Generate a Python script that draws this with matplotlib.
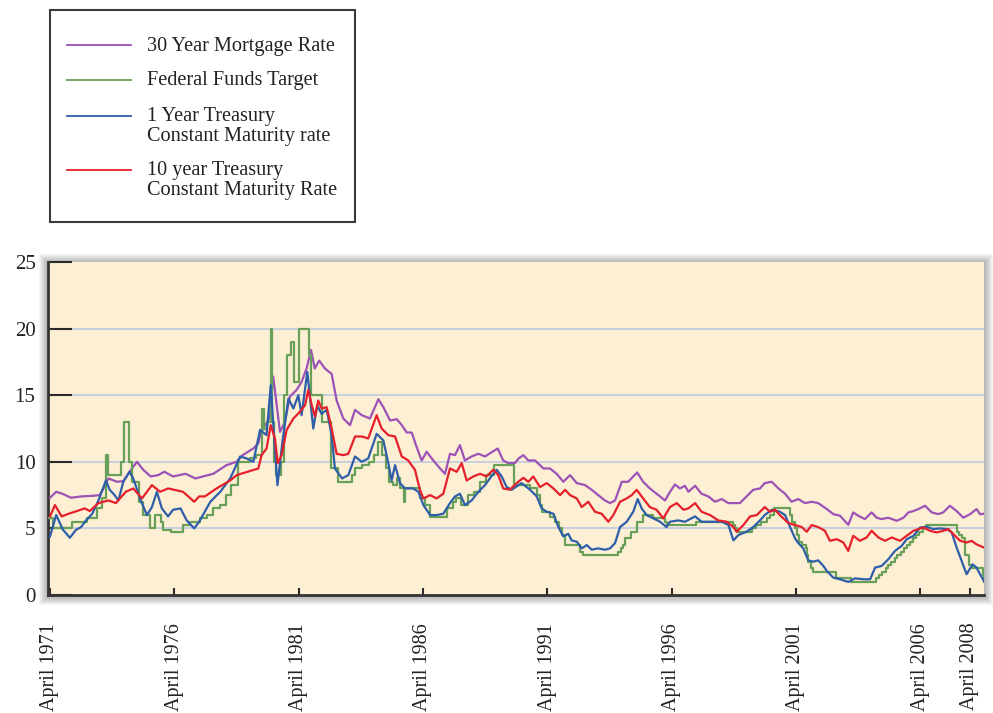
import numpy as np
import matplotlib
matplotlib.use("Agg")
import matplotlib.pyplot as plt
from matplotlib.patches import Rectangle
from matplotlib.lines import Line2D

plt.rcParams['font.family'] = ['Liberation Serif', 'DejaVu Serif']

# (decimal year, percent) pairs
mortgage_30yr = [
    (1971.25, 7.3), (1971.5, 7.75), (1971.75, 7.6), (1972.1, 7.3), (1972.5, 7.4), (1973.0, 7.45),
    (1973.25, 7.5), (1973.4, 8.0), (1973.6, 8.75), (1973.95, 8.5), (1974.2, 8.55), (1974.45, 9.25),
    (1974.75, 10.0), (1975.0, 9.4), (1975.3, 8.9), (1975.6, 9.0), (1975.85, 9.25), (1976.2, 8.9),
    (1976.7, 9.1), (1977.1, 8.75), (1977.4, 8.9), (1977.82, 9.1), (1978.35, 9.75), (1978.76, 10.0),
    (1979.0, 10.5), (1979.43, 11.0), (1979.63, 11.4), (1979.74, 12.25), (1980.07, 13.25),
    (1980.23, 16.4), (1980.5, 12.25), (1980.7, 13.0), (1980.9, 14.9), (1981.17, 15.4),
    (1981.37, 16.0), (1981.57, 17.0), (1981.75, 18.4), (1981.9, 17.0), (1982.08, 17.6),
    (1982.31, 17.0), (1982.58, 16.6), (1982.78, 14.6), (1983.05, 13.25), (1983.32, 12.75),
    (1983.52, 13.9), (1983.79, 13.5), (1984.12, 13.25), (1984.46, 14.7), (1984.66, 14.1),
    (1984.93, 13.1), (1985.2, 13.2), (1985.4, 12.75), (1985.6, 12.2), (1985.8, 12.2),
    (1986.0, 11.1), (1986.2, 10.1), (1986.4, 10.75), (1986.67, 10.1), (1986.94, 9.5),
    (1987.14, 9.1), (1987.34, 10.6), (1987.54, 10.5), (1987.74, 11.25), (1987.94, 10.1),
    (1988.21, 10.4), (1988.48, 10.6), (1988.75, 10.4), (1989.0, 10.7), (1989.26, 11.0),
    (1989.48, 10.1), (1989.69, 9.9), (1989.95, 9.9), (1990.1, 10.25), (1990.29, 10.5),
    (1990.49, 10.1), (1990.76, 10.1), (1991.1, 9.5), (1991.36, 9.5), (1991.63, 9.1),
    (1991.9, 8.5), (1992.17, 9.0), (1992.44, 8.4), (1992.77, 8.25), (1993.04, 7.9),
    (1993.3, 7.5), (1993.57, 7.1), (1993.78, 6.9), (1993.98, 7.1), (1994.25, 8.5),
    (1994.51, 8.5), (1994.71, 8.9), (1994.87, 9.2), (1995.11, 8.5), (1995.38, 8.0),
    (1995.65, 7.6), (1995.99, 7.1), (1996.19, 7.75), (1996.39, 8.3), (1996.59, 8.0),
    (1996.79, 8.2), (1996.93, 7.75), (1997.2, 8.2), (1997.46, 7.6), (1997.73, 7.4),
    (1998.0, 7.0), (1998.27, 7.2), (1998.54, 6.9), (1998.8, 6.9), (1999.0, 6.9),
    (1999.27, 7.4), (1999.54, 7.9), (1999.81, 8.0), (2000.0, 8.4), (2000.28, 8.5),
    (2000.55, 8.0), (2000.82, 7.6), (2001.08, 7.0), (2001.35, 7.2), (2001.62, 6.9),
    (2001.89, 7.0), (2002.15, 6.9), (2002.5, 6.45), (2002.76, 6.07), (2003.03, 5.95),
    (2003.36, 5.27), (2003.56, 6.2), (2003.76, 5.95), (2004.03, 5.7), (2004.3, 6.2),
    (2004.5, 5.8), (2004.7, 5.7), (2004.97, 5.8), (2005.31, 5.57), (2005.58, 5.8),
    (2005.78, 6.2), (2005.98, 6.3), (2006.18, 6.45), (2006.45, 6.7), (2006.72, 6.2),
    (2006.98, 6.07), (2007.18, 6.2), (2007.45, 6.7), (2007.72, 6.3), (2007.99, 5.8),
    (2008.26, 6.07), (2008.52, 6.45), (2008.66, 6.07), (2008.82, 6.1),
]

# target rate, each value holds until the next date
fed_funds_target = [
    (1971.18, 5.75), (1971.38, 5.0), (1972.12, 5.5), (1972.72, 5.75), (1973.13, 6.5),
    (1973.33, 7.25), (1973.5, 10.5), (1973.6, 9.0), (1974.12, 10.0), (1974.22, 13.0),
    (1974.43, 10.0), (1974.56, 8.5), (1974.85, 7.0), (1975.0, 6.0), (1975.27, 5.0),
    (1975.47, 6.0), (1975.7, 5.5), (1975.8, 4.9), (1976.1, 4.75), (1976.6, 5.25),
    (1976.9, 5.5), (1977.3, 5.75), (1977.55, 6.0), (1977.82, 6.5), (1978.08, 6.75),
    (1978.35, 7.5), (1978.55, 8.25), (1978.83, 10.0), (1979.3, 10.25), (1979.55, 10.5),
    (1979.78, 14.0), (1979.85, 12.5), (1979.98, 13.0), (1980.12, 20.0), (1980.2, 13.0),
    (1980.28, 10.0), (1980.36, 9.0), (1980.55, 10.0), (1980.66, 15.0), (1980.8, 18.0),
    (1980.93, 19.0), (1981.05, 16.0), (1981.28, 20.0), (1981.66, 18.0), (1981.75, 15.0),
    (1982.18, 13.0), (1982.55, 9.5), (1982.85, 8.5), (1983.4, 9.0), (1983.5, 9.5),
    (1983.8, 9.75), (1984.1, 10.0), (1984.3, 10.5), (1984.43, 11.5), (1984.62, 10.5),
    (1984.75, 9.5), (1984.9, 8.5), (1985.05, 8.25), (1985.2, 8.75), (1985.32, 8.0),
    (1985.5, 7.0), (1985.55, 8.0), (1986.15, 7.25), (1986.35, 6.75), (1986.52, 5.875),
    (1987.2, 6.5), (1987.45, 7.0), (1987.6, 7.25), (1987.8, 6.75), (1988.05, 7.5),
    (1988.3, 7.75), (1988.55, 8.5), (1988.8, 9.0), (1989.1, 9.75), (1989.9, 8.25),
    (1990.55, 8.0), (1990.85, 7.5), (1990.95, 6.75), (1991.05, 6.25), (1991.35, 5.875),
    (1991.55, 5.5), (1991.72, 5.0), (1991.85, 4.5), (1991.97, 3.75), (1992.55, 3.25),
    (1992.7, 3.0), (1994.09, 3.25), (1994.2, 3.5), (1994.3, 3.75), (1994.38, 4.25),
    (1994.62, 4.75), (1994.87, 5.5), (1995.09, 6.0), (1995.52, 5.75), (1995.97, 5.5),
    (1996.08, 5.25), (1997.23, 5.5), (1998.72, 5.25), (1998.79, 5.0), (1998.87, 4.75),
    (1999.5, 5.0), (1999.63, 5.25), (1999.87, 5.5), (2000.09, 5.75), (2000.22, 6.0),
    (2000.38, 6.5), (2001.01, 6.0), (2001.08, 5.5), (2001.22, 5.0), (2001.3, 4.5),
    (2001.38, 4.0), (2001.49, 3.75), (2001.64, 3.5), (2001.71, 3.0), (2001.76, 2.5),
    (2001.85, 2.0), (2001.95, 1.75), (2002.85, 1.25), (2003.49, 1.0), (2004.49, 1.25),
    (2004.61, 1.5), (2004.72, 1.75), (2004.86, 2.0), (2004.95, 2.25), (2005.09, 2.5),
    (2005.22, 2.75), (2005.34, 3.0), (2005.49, 3.25), (2005.61, 3.5), (2005.72, 3.75),
    (2005.84, 4.0), (2005.95, 4.25), (2006.08, 4.5), (2006.22, 4.75), (2006.36, 5.0),
    (2006.49, 5.25), (2007.72, 4.75), (2007.83, 4.5), (2007.95, 4.25), (2008.06, 3.0),
    (2008.21, 2.25), (2008.33, 2.0), (2008.77, 1.5), (2008.8, 1.0), (2008.83, 1.0),
]

treasury_1yr = [
    (1971.25, 4.4), (1971.5, 6.0), (1971.77, 4.9), (1972.05, 4.3), (1972.3, 4.9), (1972.5, 5.1),
    (1972.7, 5.6), (1972.95, 6.1), (1973.2, 7.1), (1973.5, 8.6), (1973.65, 7.9), (1973.85, 7.5),
    (1974.0, 7.1), (1974.2, 8.5), (1974.45, 9.25), (1974.6, 8.75), (1974.9, 7.1), (1975.15, 6.0),
    (1975.35, 6.6), (1975.55, 7.75), (1975.75, 6.5), (1976.0, 5.9), (1976.2, 6.4), (1976.5, 6.5),
    (1976.75, 5.6), (1977.05, 5.0), (1977.25, 5.5), (1977.4, 6.0), (1977.7, 7.0), (1978.1, 7.75),
    (1978.5, 8.75), (1978.9, 10.4), (1979.16, 10.25), (1979.43, 10.0), (1979.7, 12.4),
    (1979.96, 12.0), (1980.13, 15.75), (1980.26, 12.0), (1980.4, 8.25), (1980.6, 11.5),
    (1980.84, 14.75), (1981.04, 14.0), (1981.24, 15.0), (1981.37, 13.5), (1981.6, 16.75),
    (1981.84, 12.5), (1982.0, 14.25), (1982.17, 13.6), (1982.38, 13.9), (1982.58, 12.0),
    (1982.71, 9.5), (1983.0, 8.75), (1983.25, 9.0), (1983.52, 10.4), (1983.79, 10.0),
    (1984.05, 10.25), (1984.39, 12.1), (1984.66, 11.6), (1984.86, 9.9), (1984.99, 8.6),
    (1985.13, 9.75), (1985.33, 8.4), (1985.53, 8.0), (1985.86, 8.0), (1986.07, 7.75),
    (1986.27, 6.75), (1986.54, 6.0), (1986.8, 6.0), (1987.07, 6.1), (1987.34, 6.9),
    (1987.54, 7.4), (1987.74, 7.6), (1987.94, 6.75), (1988.21, 7.1), (1988.48, 7.75),
    (1988.75, 8.25), (1989.0, 8.9), (1989.22, 9.4), (1989.42, 8.9), (1989.62, 8.1),
    (1989.82, 7.9), (1990.22, 8.4), (1990.56, 7.9), (1990.83, 7.4), (1991.03, 6.5),
    (1991.23, 6.25), (1991.5, 6.1), (1991.7, 5.1), (1991.9, 4.4), (1992.1, 4.6),
    (1992.23, 4.1), (1992.44, 4.0), (1992.64, 3.5), (1992.84, 3.75), (1993.04, 3.4),
    (1993.3, 3.5), (1993.57, 3.4), (1993.78, 3.5), (1993.98, 3.9), (1994.18, 5.1),
    (1994.45, 5.5), (1994.71, 6.25), (1994.89, 7.2), (1995.05, 6.5), (1995.25, 6.0),
    (1995.52, 5.75), (1995.79, 5.5), (1996.05, 5.1), (1996.19, 5.5), (1996.52, 5.6),
    (1996.79, 5.5), (1997.2, 5.9), (1997.46, 5.5), (1997.87, 5.5), (1998.27, 5.5),
    (1998.54, 5.25), (1998.74, 4.1), (1998.94, 4.5), (1999.27, 4.75), (1999.54, 5.1),
    (1999.81, 5.6), (2000.0, 6.0), (2000.28, 6.4), (2000.61, 6.25), (2000.82, 6.0),
    (2001.02, 5.1), (2001.22, 4.25), (2001.35, 3.9), (2001.55, 3.5), (2001.75, 2.6),
    (2001.95, 2.5), (2002.15, 2.6), (2002.35, 2.2), (2002.5, 1.8), (2002.76, 1.3),
    (2003.03, 1.18), (2003.36, 0.98), (2003.63, 1.25), (2003.97, 1.18), (2004.24, 1.18),
    (2004.44, 2.06), (2004.7, 2.18), (2004.97, 2.68), (2005.24, 3.31), (2005.51, 3.69),
    (2005.71, 4.19), (2005.98, 4.44), (2006.25, 5.07), (2006.52, 5.12), (2006.78, 4.95),
    (2007.05, 5.0), (2007.32, 4.95), (2007.52, 4.7), (2007.72, 3.56), (2007.92, 2.56),
    (2008.12, 1.56), (2008.36, 2.3), (2008.52, 2.06), (2008.66, 1.56), (2008.82, 1.05),
]

treasury_10yr = [
    (1971.25, 5.9), (1971.45, 6.75), (1971.72, 5.9), (1972.0, 6.1), (1972.25, 6.25), (1972.65, 6.5),
    (1972.85, 6.3), (1973.2, 6.9), (1973.6, 7.1), (1973.9, 6.9), (1974.3, 7.75), (1974.6, 8.0),
    (1974.95, 7.25), (1975.35, 8.25), (1975.68, 7.75), (1976.0, 8.0), (1976.6, 7.75), (1977.05, 7.0),
    (1977.25, 7.4), (1977.48, 7.4), (1977.95, 8.0), (1978.5, 8.6), (1978.76, 9.0), (1979.2, 9.25),
    (1979.63, 9.5), (1979.76, 10.5), (1979.96, 11.0), (1980.13, 12.75), (1980.3, 11.75),
    (1980.41, 9.9), (1980.57, 10.5), (1980.77, 12.4), (1981.04, 13.25), (1981.3, 13.75),
    (1981.51, 14.25), (1981.64, 15.4), (1981.78, 14.25), (1981.91, 13.4), (1982.04, 14.6),
    (1982.18, 14.0), (1982.38, 14.1), (1982.58, 12.5), (1982.78, 10.6), (1983.05, 10.5),
    (1983.25, 10.6), (1983.52, 11.9), (1983.79, 11.9), (1984.05, 11.75), (1984.39, 13.5),
    (1984.59, 12.5), (1984.86, 12.0), (1985.13, 11.9), (1985.4, 10.4), (1985.66, 10.1),
    (1985.93, 9.4), (1986.13, 7.9), (1986.27, 7.25), (1986.54, 7.5), (1986.8, 7.25),
    (1987.07, 7.6), (1987.34, 9.5), (1987.61, 9.25), (1987.81, 9.9), (1988.01, 8.6),
    (1988.28, 8.9), (1988.55, 9.1), (1988.81, 8.9), (1989.08, 9.4), (1989.28, 9.0),
    (1989.48, 8.0), (1989.75, 7.9), (1990.02, 8.4), (1990.29, 8.8), (1990.49, 8.5),
    (1990.69, 8.9), (1990.96, 8.1), (1991.23, 8.4), (1991.5, 8.0), (1991.77, 7.5),
    (1991.97, 7.9), (1992.17, 7.5), (1992.44, 7.25), (1992.64, 6.6), (1992.9, 7.0),
    (1993.17, 6.25), (1993.44, 6.1), (1993.71, 5.5), (1993.91, 6.0), (1994.18, 7.0),
    (1994.45, 7.25), (1994.65, 7.5), (1994.85, 7.9), (1995.11, 7.25), (1995.38, 6.6),
    (1995.65, 6.4), (1995.92, 5.75), (1996.19, 6.6), (1996.46, 6.9), (1996.73, 6.4),
    (1996.93, 6.5), (1997.2, 6.9), (1997.46, 6.25), (1997.8, 6.0), (1998.13, 5.6),
    (1998.47, 5.5), (1998.74, 5.1), (1998.87, 4.75), (1999.14, 5.25), (1999.41, 5.9),
    (1999.68, 6.0), (2000.0, 6.6), (2000.21, 6.25), (2000.41, 6.4), (2000.61, 6.0),
    (2000.95, 5.4), (2001.22, 5.25), (2001.49, 5.1), (2001.69, 4.75), (2001.89, 5.25),
    (2002.15, 5.1), (2002.42, 4.82), (2002.62, 4.07), (2002.9, 4.19), (2003.16, 3.94),
    (2003.36, 3.31), (2003.56, 4.44), (2003.83, 4.07), (2004.1, 4.32), (2004.3, 4.82),
    (2004.57, 4.32), (2004.84, 4.07), (2005.11, 4.32), (2005.44, 4.07), (2005.71, 4.44),
    (2005.98, 4.82), (2006.18, 4.95), (2006.38, 5.07), (2006.65, 4.82), (2006.92, 4.7),
    (2007.18, 4.82), (2007.39, 4.95), (2007.59, 4.57), (2007.86, 4.07), (2008.12, 3.94),
    (2008.32, 4.07), (2008.52, 3.8), (2008.82, 3.56),
]

series_labels = [
    "30 Year Mortgage Rate",
    "Federal Funds Target",
    "1 Year Treasury\nConstant Maturity rate",
    "10 year Treasury\nConstant Maturity Rate",
]
series_colors = ["#9c52b6", "#68a05a", "#2e5ea9", "#e5202a"]

tick_years = [1971, 1976, 1981, 1986, 1991, 1996, 2001, 2006, 2008]
tick_labels = ["April %d" % y for y in tick_years]

W, H = 993, 713
fig = plt.figure(figsize=(W / 100, H / 100), dpi=100)
fig.patch.set_facecolor("white")

# plot box in pixels: left, right, top, bottom (measured from top of image)
px_l, px_r, px_t, px_b = 48, 984, 262, 595
ax = fig.add_axes([px_l / W, 1 - px_b / H, (px_r - px_l) / W, (px_b - px_t) / H])
ax.set_facecolor("#fdefd3")

# soft shadow around the plot box
for i in range(1, 10):
    fig.patches.append(Rectangle(((px_l - i) / W, 1 - (px_b + i + 1) / H),
                                 (px_r - px_l + 2 * i) / W, (px_b - px_t + 2 * i) / H,
                                 transform=fig.transFigure, facecolor="black",
                                 edgecolor="none", alpha=0.035, zorder=-5))

data = [mortgage_30yr, fed_funds_target, treasury_1yr, treasury_10yr]
for k, (series, color) in enumerate(zip(data, series_colors)):
    t, v = np.array(series).T
    ds = "steps-post" if series is fed_funds_target else "default"
    ax.plot(t, v, color=color, lw=1.6, drawstyle=ds, zorder=3 + k)

ax.set_xlim(1971.17, 2008.82)
ax.set_ylim(0, 25)
ax.set_yticks([0, 5, 10, 15, 20, 25])
ax.set_xticks([y + 0.25 for y in tick_years])
ax.set_xticklabels(tick_labels, rotation=90)

ax.grid(axis="y", color="#c3cde0", lw=1.3, zorder=1)
gl = ax.get_ygridlines()
gl[0].set_visible(False)
gl[-1].set_visible(False)

ax.tick_params(axis="y", direction="in", length=17, width=1.5, color="#2a2a2a",
               pad=9, labelsize=15, labelcolor="#222222")
ax.tick_params(axis="x", direction="in", length=5, width=1.5, color="#2a2a2a",
               pad=20, labelsize=14.5, labelcolor="#222222")

for side in ("top", "right"):
    ax.spines[side].set_visible(False)
for side in ("left", "bottom"):
    ax.spines[side].set_color("#333333")
    ax.spines[side].set_linewidth(2)

# legend box drawn above the plot
fig.patches.append(Rectangle((50 / W, 1 - 222 / H), 305 / W, 212 / H,
                             transform=fig.transFigure, facecolor="white",
                             edgecolor="#3a3a3a", lw=1.5))
row_y = [45, 80, 116, 170]
for label, color, y in zip(series_labels, series_colors, row_y):
    fig.lines.append(Line2D([67 / W, 131 / W], [1 - y / H, 1 - y / H],
                            transform=fig.transFigure, color=color, lw=1.3))
    for j, line in enumerate(label.split("\n")):
        fig.text(147 / W, 1 - (y + 1 + j * 19.5) / H, line, fontsize=14.6,
                 color="#222222", va="center")

fig.savefig("out.png", dpi=100)
